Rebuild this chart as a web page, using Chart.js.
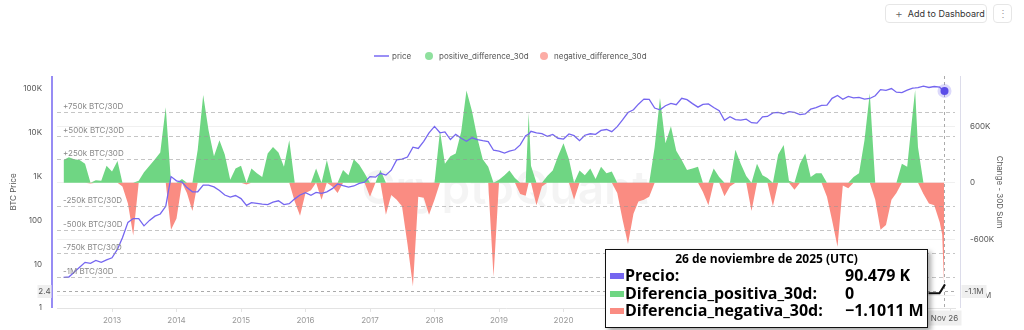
<!DOCTYPE html>
<html>
<head>
<meta charset="utf-8">
<title>BTC 30D flow</title>
<script src="https://cdn.jsdelivr.net/npm/chart.js@4.4.1/dist/chart.umd.min.js"></script>
<style>
  body { margin: 0; background: #fff; font-family: Inter, "Liberation Sans", sans-serif; }
  #wrap { position: relative; width: 1024px; height: 330px; overflow: hidden; }
  #flowChart { position: absolute; left: 0; top: 0; }
  .btn { position: absolute; top: 4px; height: 19px; border: 1px solid #e6e6e6; border-radius: 4px; white-space: nowrap;
         background: #fff; color: #333; font-size: 9px; line-height: 17px; box-sizing: border-box; }
  .btn.add { left: 885px; width: 102px; padding-left: 9px; }
  .btn.add .plus { color: #666; font-size: 12px; font-weight: 300; margin-right: 5px; vertical-align: -1px; }
  .btn.more { left: 993px; width: 19px; text-align: center; color: #999; font-size: 10px; }
  .lg-item { position: absolute; top: 50px; height: 12px; line-height: 12px; font-size: 8px; color: #555; }
  .lg-line { position: absolute; left: 374px; top: 55px; width: 15px; height: 2px; background: #9a8ff6; }
  .lg-dot { position: absolute; top: 52px; width: 8px; height: 8px; border-radius: 50%; }
  #tip { position: absolute; left: 605px; top: 249px; width: 323px; height: 79px; box-sizing: border-box;
         border: 1.5px solid #111; background: #fff; box-shadow: 3px 3px 5px rgba(0,0,0,0.35);
         font-family: "Open Sans", "Noto Sans", sans-serif; color: #000; }
  #tip .title { position: absolute; left: 0; right: 0; top: 1px; text-align: center; font-weight: 700;
                font-size: 12px; line-height: 16px; }
  #tip .row { position: absolute; left: 0; right: 0; height: 17.5px; line-height: 17.5px; font-weight: 700; font-size: 16px; }
  #tip .sw { position: absolute; left: 4px; top: 6px; width: 14px; height: 6px; }
  #tip .lbl { position: absolute; left: 19px; }
  #tip .val { position: absolute; left: 239px; }
</style>
</head>
<body>
<div id="wrap">
  <canvas id="flowChart" width="1024" height="330"></canvas>

  <div class="btn add"><span class="plus">+</span>Add to Dashboard</div>
  <div class="btn more">&#8942;</div>

  <div class="lg-line"></div>
  <div class="lg-item" style="left:392px">price</div>
  <div class="lg-dot" style="left:425px;background:#8fe09e"></div>
  <div class="lg-item" style="left:439px">positive_difference_30d</div>
  <div class="lg-dot" style="left:540px;background:#fcaca5"></div>
  <div class="lg-item" style="left:554px">negative_difference_30d</div>

  <div id="tip"></div>
</div>

<script>
// monthly samples, plus a few extra days at the sharp spikes
const dates = [
  "2012-04-01", "2012-05-01", "2012-06-01", "2012-07-01", "2012-08-01", "2012-09-01", "2012-10-01", "2012-11-01", "2012-12-01",
  "2013-01-01", "2013-02-01", "2013-03-01", "2013-04-01", "2013-05-01", "2013-06-01", "2013-07-01", "2013-08-01", "2013-09-01", "2013-10-01", "2013-11-01", "2013-12-01",
  "2014-01-01", "2014-02-01", "2014-03-01", "2014-04-01", "2014-05-01", "2014-06-01", "2014-07-01", "2014-08-01", "2014-09-01", "2014-10-01", "2014-11-01", "2014-12-01",
  "2015-01-01", "2015-02-01", "2015-03-01", "2015-04-01", "2015-05-01", "2015-06-01", "2015-07-01", "2015-08-01", "2015-09-01", "2015-10-01", "2015-11-01", "2015-12-01",
  "2016-01-01", "2016-02-01", "2016-03-01", "2016-04-01", "2016-05-01", "2016-06-01", "2016-07-01", "2016-08-01", "2016-09-01", "2016-10-01", "2016-11-01", "2016-12-01",
  "2017-01-01", "2017-02-01", "2017-03-01", "2017-04-01", "2017-05-01", "2017-06-01", "2017-07-01", "2017-08-01", "2017-09-01", "2017-10-01", "2017-11-01", "2017-12-01",
  "2018-01-01", "2018-02-01", "2018-03-01", "2018-04-01", "2018-05-01", "2018-06-01", "2018-07-01", "2018-08-01", "2018-09-01", "2018-10-01", "2018-11-01", "2018-12-01",
  "2019-01-01", "2019-02-01", "2019-03-01", "2019-04-01", "2019-05-01", "2019-06-01", "2019-06-18", "2019-07-01", "2019-08-01", "2019-09-01", "2019-10-01", "2019-11-01", "2019-12-01",
  "2020-01-01", "2020-02-01", "2020-03-01", "2020-04-01", "2020-05-01", "2020-06-01", "2020-07-01", "2020-08-01", "2020-09-01", "2020-10-01", "2020-11-01", "2020-12-01",
  "2021-01-01", "2021-02-01", "2021-03-01", "2021-04-01", "2021-05-01", "2021-06-01", "2021-07-01", "2021-08-01", "2021-09-01", "2021-10-01", "2021-11-01", "2021-12-01",
  "2022-01-01", "2022-02-01", "2022-03-01", "2022-04-01", "2022-05-01", "2022-06-01", "2022-07-01", "2022-08-01", "2022-09-01", "2022-10-01", "2022-11-01", "2022-12-01",
  "2023-01-01", "2023-02-01", "2023-03-01", "2023-04-01", "2023-05-01", "2023-06-01", "2023-07-01", "2023-08-01", "2023-09-01", "2023-10-01", "2023-11-01", "2023-12-01",
  "2024-01-01", "2024-02-01", "2024-03-01", "2024-04-01", "2024-05-01", "2024-06-01", "2024-07-01", "2024-08-01", "2024-09-01", "2024-10-01", "2024-11-01", "2024-12-01",
  "2025-01-01", "2025-02-01", "2025-03-01", "2025-04-01", "2025-05-01", "2025-06-01", "2025-06-15", "2025-07-01", "2025-08-01", "2025-09-01", "2025-10-01", "2025-11-01", "2025-11-15", "2025-11-26"
];

// BTC price, USD
const price = [
  5, 5.1, 6.6, 8.5, 11, 10.5, 12.2, 11, 12.5,
  14, 22, 40, 90, 110, 110, 75, 100, 125, 140, 210, 1000,
  800, 750, 560, 450, 450, 640, 640, 580, 480, 380, 340, 370,
  315, 220, 255, 245, 235, 230, 260, 280, 230, 240, 310, 380,
  430, 375, 435, 415, 450, 530, 680, 620, 575, 610, 700, 745,
  1000, 970, 1190, 1080, 1400, 2400, 2500, 2800, 4700, 4400, 6400, 10000,
  14000, 10000, 10500, 7000, 9200, 7500, 6400, 7700, 7000, 6600, 6300, 4000,
  3800, 3450, 3800, 4100, 5300, 8600, 9300, 10800, 10000, 9600, 8300, 9200, 7500,
  7200, 9400, 8600, 6600, 8800, 9500, 9200, 11300, 11900, 10600, 13800, 19700,
  29000, 33500, 45000, 58800, 57700, 36700, 33500, 41500, 47100, 43800, 61300, 57000,
  46300, 38500, 44400, 45500, 37700, 31800, 19300, 23300, 20000, 19400, 20500, 17000,
  16600, 23100, 23600, 28500, 29300, 27200, 30500, 29200, 25900, 27000, 34600, 37700,
  42300, 42600, 61200, 71300, 58300, 67500, 62700, 64600, 58900, 60800, 70200, 96500,
  93400, 102400, 84400, 82500, 94200, 104600, 105500, 107100, 115700, 108200, 114000, 110000, 96000, 90479
];

// 30D sum of change, thousands of BTC
const positiveDiff30d = [
  240, 270, 250, 240, 200, 0, 25, 20, 180,
  120, 230, 0, 0, 0, 20, 110, 180, 250, 320, 800, 0,
  0, 40, 0, 0, 350, 930, 560, 280, 450, 300, 30, 150,
  180, 0, 150, 100, 60, 310, 380, 320, 170, 450, 0, 0,
  0, 0, 150, 0, 240, 0, 0, 135, 80, 250, 190, 100,
  0, 0, 135, 0, 0, 0, 0, 0, 0, 0, 0, 0,
  0, 550, 200, 280, 310, 540, 980, 760, 470, 250, 170, 0,
  30, 80, 130, 50, 0, 0, 740, 180, 0, 0, 70, 130, 280,
  420, 250, 0, 130, 80, 150, 40, 170, 100, 120, 0, 0,
  0, 0, 0, 0, 0, 380, 900, 420, 600, 340, 240, 135,
  150, 170, 0, 0, 150, 60, 0, 0, 350, 200, 70, 0,
  200, 80, 50, 0, 300, 400, 20, 0, 200, 310, 60, 100,
  100, 0, 0, 0, 0, 0, 60, 100, 450, 950, 0, 0,
  0, 0, 0, 200, 170, 740, 985, 380, 0, 0, 0, 0, 0, 0
];

const negativeDiff30d = [
  0, 0, 0, 0, 0, -10, 0, 0, 0,
  0, 0, -40, -220, -560, 0, 0, 0, 0, 0, 0, -500,
  -380, 0, -110, -300, 0, 0, 0, 0, 0, 0, 0, 0,
  0, -20, 0, 0, 0, 0, 0, 0, 0, 0, -200, -350,
  -110, -80, 0, -180, 0, -40, -110, 0, 0, 0, 0, 0,
  -150, 0, 0, -340, -130, -180, -250, -650, -1100, -150, -160, -340,
  -180, 0, 0, 0, 0, 0, 0, 0, 0, 0, 0, -1000,
  0, 0, 0, 0, -120, -140, 0, 0, -240, -40, 0, 0, 0,
  0, 0, -180, 0, 0, 0, 0, 0, 0, 0, -110, -390,
  -650, -330, -200, -180, -150, 0, 0, 0, 0, 0, 0, 0,
  0, 0, -100, -240, 0, 0, -145, -40, 0, 0, 0, -300,
  0, 0, 0, -250, 0, 0, 0, -75, 0, 0, 0, 0,
  0, -150, -400, -680, -30, -60, 0, 0, 0, 0, -180, -500,
  -450, -180, -110, 0, 0, 0, 0, 0, -120, -220, -240, -420, -550, -1101.1
];

const yearTicks = [2013, 2014, 2015, 2016, 2017, 2018, 2019, 2020, 2021, 2022, 2023, 2024, 2025, 2026];
const priceTicks = [1, 10, 100, 1000, 10000, 100000];
const priceTickLabels = ["1", "10", "100", "1K", "10K", "100K"];
const flowTicks = [-1200, -600, 0, 600];
const flowTickLabels = ["-1.2M", "-600K", "0", "600K"];
const guideValues = [750, 500, 250, -250, -500, -750, -1000];
const guideLabels = ["+750k BTC/30D", "+500k BTC/30D", "+250k BTC/30D", "-250k BTC/30D", "-500k BTC/30D", "-750k BTC/30D", "-1M BTC/30D"];
const monthsEs = ["enero", "febrero", "marzo", "abril", "mayo", "junio", "julio", "agosto", "septiembre", "octubre", "noviembre", "diciembre"];
const monthsEn = ["Jan", "Feb", "Mar", "Apr", "May", "Jun", "Jul", "Aug", "Sep", "Oct", "Nov", "Dec"];

// hover state as shown in the screenshot
const hoverIndex = dates.length - 1;
const crosshairPrice = 2.44;
const crosshairPriceLabel = "2.4";
const crosshairFlowLabel = "-1.1M";

const PURPLE = "#7566f0";
const GREEN = "#6fd683";
const SALMON = "#fa8c82";

function toYear(d) {
  const [y, m, day] = d.split("-").map(Number);
  const start = Date.UTC(y, 0, 1);
  const end = Date.UTC(y + 1, 0, 1);
  return y + (Date.UTC(y, m - 1, day) - start) / (end - start);
}

const xs = dates.map(toYear);
const toPoints = (arr) => xs.map((x, i) => ({ x, y: arr[i] }));

function formatFlow(v) {
  if (v === 0) return "0";
  const s = (Math.abs(v) / 1000).toFixed(4) + " M";
  return v < 0 ? "\u2212" + s : s;
}

function renderTooltip() {
  const [y, m, d] = dates[hoverIndex].split("-").map(Number);
  const rows = [
    { color: PURPLE, label: "Precio:", value: (price[hoverIndex] / 1000).toFixed(3) + " K" },
    { color: GREEN, label: "Diferencia_positiva_30d:", value: formatFlow(positiveDiff30d[hoverIndex]) },
    { color: SALMON, label: "Diferencia_negativa_30d:", value: formatFlow(negativeDiff30d[hoverIndex]) }
  ];
  const tip = document.getElementById("tip");
  tip.innerHTML = `<div class="title">${d} de ${monthsEs[m - 1]} de ${y} (UTC)</div>` +
    rows.map((r, i) => `
      <div class="row" style="top:${17 + i * 17.5}px">
        <span class="sw" style="background:${r.color}"></span>
        <span class="lbl">${r.label}</span>
        <span class="val">${r.value}</span>
      </div>`).join("");
}

function labelBox(ctx, text, cx, cy, w, h) {
  ctx.fillStyle = "#efefef";
  ctx.fillRect(cx - w / 2, cy - h / 2, w, h);
  ctx.fillStyle = "#555";
  ctx.textAlign = "center";
  ctx.textBaseline = "middle";
  ctx.fillText(text, cx, cy + 0.5);
}

const overlayPlugin = {
  id: "overlay",
  beforeDatasetsDraw(chart) {
    const { ctx } = chart;
    ctx.save();
    ctx.font = "600 46px Inter";
    ctx.fillStyle = "rgba(0, 0, 0, 0.045)";
    ctx.textAlign = "center";
    ctx.textBaseline = "middle";
    ctx.fillText("CryptoQuant", 505, 190);
    ctx.restore();
  },
  afterDatasetsDraw(chart) {
    const { ctx, chartArea } = chart;
    const y1 = chart.scales.y1;
    ctx.save();
    ctx.lineWidth = 1;
    ctx.setLineDash([4, 3]);
    ctx.strokeStyle = "rgba(150, 150, 150, 0.55)";
    guideValues.forEach((v) => {
      const py = Math.round(y1.getPixelForValue(v)) + 0.5;
      ctx.beginPath();
      ctx.moveTo(chartArea.left, py);
      ctx.lineTo(chartArea.right, py);
      ctx.stroke();
    });
    ctx.setLineDash([]);
    ctx.font = "8px Inter";
    ctx.fillStyle = "#888";
    ctx.textAlign = "left";
    ctx.textBaseline = "bottom";
    guideValues.forEach((v, i) => {
      const py = Math.round(y1.getPixelForValue(v));
      ctx.fillText(guideLabels[i], chartArea.left + 6, py - 1);
    });
    ctx.restore();
  },
  afterDraw(chart) {
    const { ctx, chartArea } = chart;
    const { x, y, y1 } = chart.scales;
    const hx = Math.round(x.getPixelForValue(xs[hoverIndex])) + 0.5;
    const hy = Math.round(y.getPixelForValue(crosshairPrice)) + 0.5;
    ctx.save();

    // axis side lines
    ctx.strokeStyle = PURPLE;
    ctx.lineWidth = 1.5;
    ctx.beginPath();
    ctx.moveTo(chartArea.left - 5, chartArea.top);
    ctx.lineTo(chartArea.left - 5, chartArea.bottom);
    ctx.stroke();
    ctx.strokeStyle = "#dcdcea";
    ctx.lineWidth = 1;
    ctx.beginPath();
    ctx.moveTo(chartArea.right + 5.5, chartArea.top);
    ctx.lineTo(chartArea.right + 5.5, chartArea.bottom);
    ctx.stroke();

    // crosshair
    ctx.strokeStyle = "#aaa";
    ctx.setLineDash([3, 3]);
    ctx.beginPath();
    ctx.moveTo(hx, chartArea.top);
    ctx.lineTo(hx, chartArea.bottom);
    ctx.moveTo(chartArea.left, hy);
    ctx.lineTo(chartArea.right, hy);
    ctx.stroke();
    ctx.setLineDash([]);

    ctx.font = "8px Inter";
    labelBox(ctx, crosshairPriceLabel, 44.5, hy, 14, 13);
    labelBox(ctx, crosshairFlowLabel, chartArea.right + 19, hy, 25, 13);
    const d = dates[hoverIndex].split("-").map(Number);
    labelBox(ctx, `${monthsEn[d[1] - 1]} ${d[2]}`, hx, chartArea.bottom + 10, 34, 15);

    // hovered price point
    const py = y.getPixelForValue(price[hoverIndex]);
    ctx.fillStyle = "rgba(117, 102, 240, 0.25)";
    ctx.beginPath();
    ctx.arc(hx, py, 7, 0, Math.PI * 2);
    ctx.fill();
    ctx.fillStyle = "#5b4de8";
    ctx.beginPath();
    ctx.arc(hx, py, 4, 0, Math.PI * 2);
    ctx.fill();

    // pointer from tooltip to the negative value
    const ny = y1.getPixelForValue(negativeDiff30d[hoverIndex]);
    ctx.strokeStyle = "#111";
    ctx.lineWidth = 2;
    ctx.beginPath();
    ctx.moveTo(hx - 16, ny + 7);
    ctx.lineTo(hx - 5, ny + 7);
    ctx.lineTo(hx + 0.5, ny - 2);
    ctx.stroke();
    ctx.restore();
  }
};

Chart.defaults.font.family = "Inter, 'Liberation Sans', sans-serif";
Chart.defaults.font.size = 8;
Chart.defaults.color = "#666";

new Chart(document.getElementById("flowChart"), {
  type: "line",
  data: {
    datasets: [
      {
        label: "price",
        data: toPoints(price),
        yAxisID: "y",
        borderColor: PURPLE,
        borderWidth: 1.3,
        pointRadius: 0,
        tension: 0,
        fill: false,
        order: 0
      },
      {
        label: "positive_difference_30d",
        data: toPoints(positiveDiff30d),
        yAxisID: "y1",
        borderColor: "transparent",
        backgroundColor: GREEN,
        pointRadius: 0,
        tension: 0,
        fill: "origin",
        order: 1
      },
      {
        label: "negative_difference_30d",
        data: toPoints(negativeDiff30d),
        yAxisID: "y1",
        borderColor: "transparent",
        backgroundColor: SALMON,
        pointRadius: 0,
        tension: 0,
        fill: "origin",
        order: 2
      }
    ]
  },
  options: {
    responsive: false,
    devicePixelRatio: 1,
    animation: false,
    layout: { padding: { top: 76 } },
    plugins: {
      legend: { display: false },
      tooltip: { enabled: false }
    },
    scales: {
      x: {
        type: "linear",
        min: 2012.147,
        max: 2026.07,
        afterBuildTicks: (s) => { s.ticks = yearTicks.map((v) => ({ value: v })); },
        afterFit: (s) => { s.height = 22; },
        grid: { drawOnChartArea: false, tickLength: 4, color: "#e3e3e3" },
        border: { color: "#e3e3e3" },
        ticks: { color: "#999", padding: 4, maxRotation: 0, autoSkip: false, callback: (v) => String(v) }
      },
      y: {
        type: "logarithmic",
        position: "left",
        min: 1,
        max: 198000,
        afterBuildTicks: (s) => { s.ticks = priceTicks.map((v) => ({ value: v })); },
        afterFit: (s) => { s.width = 57; },
        grid: { display: false, drawTicks: false },
        border: { display: false },
        ticks: { color: "#555", padding: 15, callback: (v, i) => priceTickLabels[i] },
        title: { display: true, text: "BTC Price", color: "#555", padding: { top: 9, bottom: 0 } }
      },
      y1: {
        type: "linear",
        position: "right",
        min: -1331,
        max: 1133,
        afterBuildTicks: (s) => { s.ticks = flowTicks.map((v) => ({ value: v })); },
        afterFit: (s) => { s.width = 69; },
        grid: { color: "#f0f0f0", drawTicks: false },
        border: { display: false },
        ticks: { color: "#555", padding: 15, callback: (v, i) => flowTickLabels[i] },
        title: { display: true, text: "Change - 30D Sum", color: "#555", padding: { top: 20, bottom: 0 } }
      }
    }
  },
  plugins: [overlayPlugin]
});

renderTooltip();
</script>
</body>
</html>
